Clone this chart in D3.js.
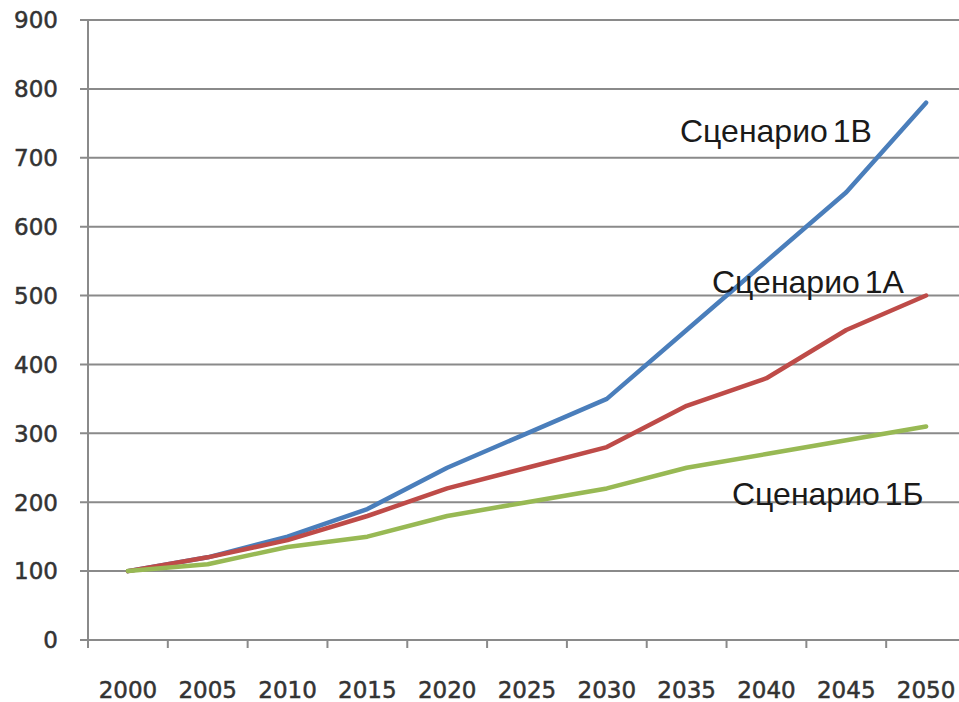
<!DOCTYPE html>
<html>
<head>
    <meta charset="utf-8">
    <title>Сценарии</title>
    <script src="https://cdn.jsdelivr.net/npm/d3@7"></script>
    <style>
        body { margin: 0; background: #fff; }
    </style>
</head>
<body>
<svg width="959" height="702"></svg>

<script>
    const years = ["2000", "2005", "2010", "2015", "2020", "2025", "2030", "2035", "2040", "2045", "2050"];
    const yTicks = [0, 100, 200, 300, 400, 500, 600, 700, 800, 900];

    const scenario1B = [100, 120, 150, 190, 250, 300, 350, 450, 550, 650, 780];  // blue
    const scenario1A = [100, 120, 145, 180, 220, 250, 280, 340, 380, 450, 500];  // red
    const scenario1Bb = [100, 110, 135, 150, 180, 200, 220, 250, 270, 290, 310]; // green

    const seriesNames = ["Сценарио 1В", "Сценарио 1А", "Сценарио 1Б"];

    const svg = d3.select("svg");

    const plotLeft = 88, plotRight = 966, plotTop = 20, plotBottom = 640;

    const x = d3.scaleBand().domain(years).range([plotLeft, plotRight]);
    const y = d3.scaleLinear().domain([0, 900]).range([plotBottom, plotTop]);

    // gridlines
    svg.selectAll(".grid")
        .data(yTicks)
        .enter().append("line")
        .attr("x1", plotLeft - 8)
        .attr("x2", 959)
        .attr("y1", d => y(d))
        .attr("y2", d => y(d))
        .attr("stroke", "#8a8a8a")
        .attr("stroke-width", 2);

    // y axis line
    svg.append("line")
        .attr("x1", plotLeft).attr("x2", plotLeft)
        .attr("y1", plotTop).attr("y2", plotBottom)
        .attr("stroke", "#8a8a8a")
        .attr("stroke-width", 2);

    // x ticks between categories
    const tickX = years.map(d => x(d)).concat([plotRight]);
    svg.selectAll(".xtick")
        .data(tickX)
        .enter().append("line")
        .attr("x1", d => d).attr("x2", d => d)
        .attr("y1", plotBottom).attr("y2", plotBottom + 8)
        .attr("stroke", "#8a8a8a")
        .attr("stroke-width", 2);

    // y labels
    svg.selectAll(".ylabel")
        .data(yTicks)
        .enter().append("text")
        .attr("x", 58)
        .attr("y", d => y(d))
        .attr("dy", "0.36em")
        .attr("text-anchor", "end")
        .attr("font-family", "DejaVu Sans")
        .attr("font-size", "23px")
        .attr("fill", "#333")
        .attr("stroke", "#333")
        .attr("stroke-width", 0.5)
        .text(d => d);

    // x labels
    svg.selectAll(".xlabel")
        .data(years)
        .enter().append("text")
        .attr("x", d => x(d) + x.bandwidth() / 2)
        .attr("y", 698)
        .attr("text-anchor", "middle")
        .attr("font-family", "DejaVu Sans")
        .attr("font-size", "23px")
        .attr("fill", "#333")
        .attr("stroke", "#333")
        .attr("stroke-width", 0.5)
        .text(d => d);

    // lines
    const line = d3.line()
        .x((d, i) => x(years[i]) + x.bandwidth() / 2)
        .y(d => y(d));

    const series = [
        { values: scenario1B, color: "#4a7ebb" },
        { values: scenario1A, color: "#be4b48" },
        { values: scenario1Bb, color: "#98b954" }
    ];

    svg.selectAll(".series")
        .data(series)
        .enter().append("path")
        .attr("d", d => line(d.values))
        .attr("fill", "none")
        .attr("stroke", d => d.color)
        .attr("stroke-width", 4.5)
        .attr("stroke-linejoin", "round")
        .attr("stroke-linecap", "round");

    // series labels
    const labelPos = [
        { x: 680, y: 142 },
        { x: 712, y: 293 },
        { x: 732, y: 505 }
    ];

    svg.selectAll(".slabel")
        .data(seriesNames)
        .enter().append("text")
        .attr("x", (d, i) => labelPos[i].x)
        .attr("y", (d, i) => labelPos[i].y)
        .attr("font-family", "Liberation Sans, Arial, sans-serif")
        .attr("font-size", "32px")
        .attr("word-spacing", "-4px")
        .attr("fill", "#1a1a1a")
        .text(d => d);
</script>
</body>
</html>
